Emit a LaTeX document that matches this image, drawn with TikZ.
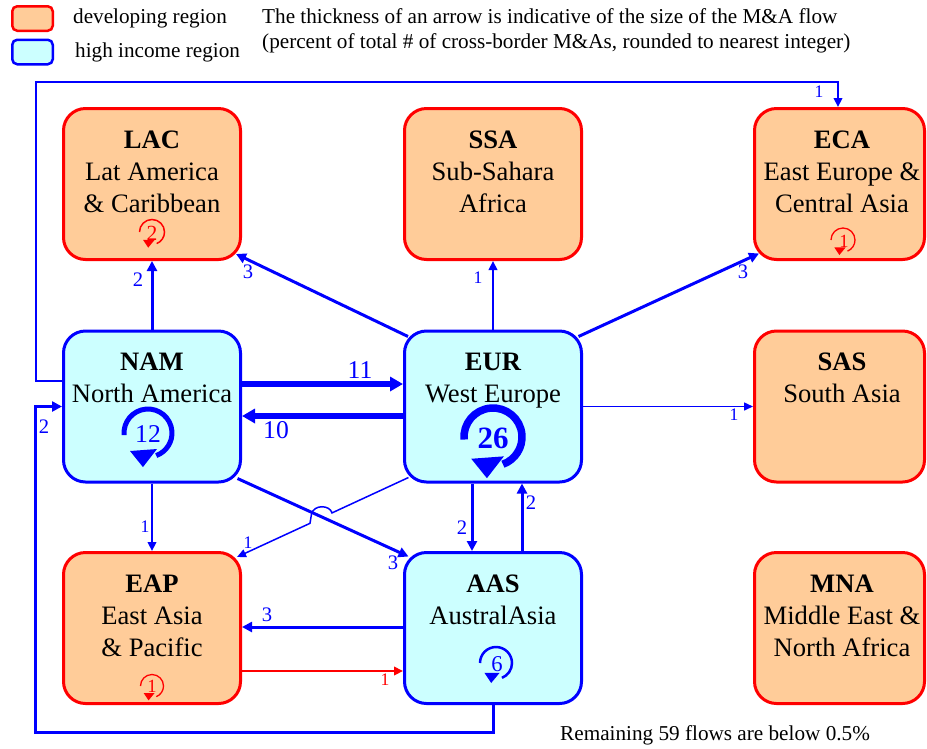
\documentclass[tikz,border=0pt]{standalone}
\usepackage{fontspec}
\setmainfont{Liberation Serif}
\usetikzlibrary{arrows.meta,calc}
\definecolor{peach}{HTML}{FFCC99}
\definecolor{ice}{HTML}{CCFFFF}
\newcommand{\loopbig}[4]{%
  \begin{scope}[shift={#1}]
    \draw[#4, line width=#3] (185:#2pt) arc[start angle=185, end angle=-70, radius=#2pt];
    \fill[#4] (-0.75*#2, -0.75*#2) -- (0.375*#2, -0.667*#2) -- (-0.21*#2, -1.42*#2) -- cycle;
  \end{scope}}
\newcommand{\looplittle}[4]{%
  \begin{scope}[shift={#1}]
    \draw[#4, line width=#3] (180:#2pt) arc[start angle=180, end angle=-68, radius=#2pt];
    \fill[#4] (-0.72*#2, -0.62*#2) -- (0.22*#2, -0.62*#2) -- (-0.3*#2, -1.25*#2) -- cycle;
  \end{scope}}
\begin{document}
\begin{tikzpicture}[x=1pt,y=1pt,
  regbox/.style={rounded corners=22pt, line width=3pt, minimum width=177pt, minimum height=151pt, inner sep=0},
  devbox/.style={regbox, draw=red, fill=peach},
  hibox/.style={regbox, draw=blue, fill=ice},
  legbox/.style={rounded corners=5pt, line width=2.5pt, minimum width=40.5pt, minimum height=24.5pt, inner sep=0},
  bt/.style={inner sep=0, anchor=base, font=\fontsize{26.6}{32}\selectfont},
  bh/.style={inner sep=0, anchor=base, font=\fontsize{26.6}{32}\selectfont\bfseries},
  lg/.style={inner sep=0, anchor=base west, font=\fontsize{21.2}{25}\selectfont},
  fthin/.style={draw=blue, line width=1.5pt, -{Triangle[length=9pt,width=8pt]}},
  fone/.style={draw=blue, line width=2.2pt, -{Triangle[length=9pt,width=8.5pt]}},
  ftwo/.style={draw=blue, line width=3pt, -{Triangle[length=10pt,width=10pt]}},
  ften/.style={draw=blue, line width=6pt, -{Triangle[length=13pt,width=14pt]}},
  lbig/.style={text=blue, inner sep=0, font=\fontsize{20.6}{24}\selectfont},
  lsmall/.style={text=blue, inner sep=0, font=\fontsize{17.6}{20}\selectfont},
  lhuge/.style={text=blue, inner sep=0, font=\fontsize{25.6}{30}\selectfont},
]
\useasboundingbox (0,0) rectangle (927,-748);

% legend and notes
\node[legbox, draw=red, fill=peach] (legdev) at (32.5,-18.5) {};
\node[legbox, draw=blue, fill=ice] (leghi) at (32.5,-52) {};
\node[lg] (legdevt) at (73,-23.5) {developing region};
\node[lg] (leghit) at (75,-57) {high income region};
\node[lg] (note1) at (262,-23) {The thickness of an arrow is indicative of the size of the M\&A flow};
\node[lg] (note2) at (262,-48) {(percent of total \# of cross-border M\&As, rounded to nearest integer)};
\node[lg] (rem) at (560,-740) {Remaining 59 flows are below 0.5\%};

% region boxes
\node[devbox] (lac) at (152,-184) {};
\node[devbox] (ssa) at (493,-184) {};
\node[devbox, minimum width=170pt] (eca) at (839.5,-184) {};
\node[hibox] (nam) at (152,-406.5) {};
\node[hibox] (eur) at (493,-406.5) {};
\node[devbox, minimum width=170pt] (sas) at (839.5,-406.5) {};
\node[devbox] (eap) at (152,-628) {};
\node[hibox] (aas) at (493,-628) {};
\node[devbox, minimum width=170pt] (mna) at (839.5,-628) {};

% region texts
\node[bh] (lac0) at (152,-148) {LAC};
\node[bt] (lac1) at (152,-180) {Lat America};
\node[bt] (lac2) at (152,-212) {\& Caribbean};
\node[bh] (ssa0) at (493,-148) {SSA};
\node[bt] (ssa1) at (493,-180) {Sub-Sahara};
\node[bt] (ssa2) at (493,-212) {Africa};
\node[bh] (eca0) at (842,-148) {ECA};
\node[bt] (eca1) at (842,-180) {East Europe \&};
\node[bt] (eca2) at (842,-212) {Central Asia};
\node[bh] (nam0) at (152,-370) {NAM};
\node[bt] (nam1) at (152,-402) {North America};
\node[bh] (eur0) at (493,-370) {EUR};
\node[bt] (eur1) at (493,-402) {West Europe};
\node[bh] (sas0) at (842,-370) {SAS};
\node[bt] (sas1) at (842,-402) {South Asia};
\node[bh] (eap0) at (152,-592) {EAP};
\node[bt] (eap1) at (152,-624) {East Asia};
\node[bt] (eap2) at (152,-656) {\& Pacific};
\node[bh] (aas0) at (493,-592) {AAS};
\node[bt] (aas1) at (493,-624) {AustralAsia};
\node[bh] (mna0) at (842,-592) {MNA};
\node[bt] (mna1) at (842,-624) {Middle East \&};
\node[bt] (mna2) at (842,-656) {North Africa};

% helper coordinates
\coordinate (topleft) at (36,-82);
\coordinate (botleft) at (35,-732);
\coordinate (hopA) at (332,-512.9);
\coordinate (hopB) at (310,-523.3);

% flows
\draw[ftwo] (nam.north) -- (lac.south);
\draw[ftwo] ($(eur.north west)+(5,-7)$) -- ($(lac.south east)+(-6,7)$);
\draw[fone] (eur.north) -- (ssa.south);
\draw[ftwo] ($(eur.north east)+(-4.5,-7)$) -- ($(eca.south west)+(6,7.5)$);
\draw[fone] ($(nam.west)+(0,25.5)$) -| (topleft) -| ($(eca.north)+(-1.5,0)$);
\draw[ften] ($(nam.east)+(0,22.5)$) -- ($(eur.west)+(0,22.5)$);
\draw[ften] ($(eur.west)+(0,-9.5)$) -- ($(nam.east)+(0,-9.5)$);
\draw[fthin] (eur.east) -- (sas.west);
\draw[fone] (nam.south) -- (eap.north);
\draw[ftwo] ($(nam.south east)+(-4.5,5)$) -- ($(aas.north west)+(5.5,-5.5)$);
\draw[fthin] ($(eur.south west)+(5.5,6)$) -- (hopA) .. controls (330,-505) and (314,-504) .. (311.5,-514) -- (hopB) -- ($(eap.north east)+(-5,-6)$);
\draw[ftwo] ($(eur.south)+(-21,0)$) -- ($(aas.north)+(-21,0)$);
\draw[ftwo] ($(aas.north)+(29,0)$) -- ($(eur.south)+(29,0)$);
\draw[ftwo] ($(aas.west)+(0,1)$) -- ($(eap.east)+(0,1)$);
\draw[fone, draw=red] ($(eap.east)+(0,-43)$) -- ($(aas.west)+(0,-43)$);
\draw[ftwo] (aas.south) |- (botleft) |- (nam.west);

% flow labels
\node[lbig] (v1) at (138,-280) {2};
\node[lbig] (v2) at (248,-272) {3};
\node[lsmall] (v3) at (478,-278) {1};
\node[lbig] (v4) at (743,-272) {3};
\node[lsmall] (v5) at (819,-92) {1};
\node[lhuge] (v6) at (360,-370) {11};
\node[lhuge] (v7) at (276,-430) {10};
\node[lsmall] (v8) at (734,-415) {1};
\node[lsmall] (v9) at (145,-527) {1};
\node[lsmall] (v10) at (248,-543) {1};
\node[lbig] (v11) at (393,-563) {3};
\node[lbig] (v12) at (462,-528) {2};
\node[lbig] (v13) at (531,-503) {2};
\node[lbig] (v14) at (267,-615) {3};
\node[lsmall, text=red] (v15) at (385,-680) {1};
\node[lbig] (v16) at (44,-427) {2};

% self loops
\loopbig{(148,-433)}{24}{5pt}{blue}
\node[lhuge] (selfnam) at (148,-434) {12};
\loopbig{(493,-437)}{29}{7.5pt}{blue}
\node[text=blue, inner sep=0, font=\fontsize{31}{36}\selectfont\bfseries] (selfeur) at (493,-438) {26};
\looplittle{(496,-663)}{16}{2.5pt}{blue}
\node[text=blue, inner sep=0, font=\fontsize{22.6}{26}\selectfont] (selfaas) at (497,-664) {6};
\looplittle{(152,-232)}{12.5}{1.5pt}{red}
\node[text=red, inner sep=0, font=\fontsize{21.6}{25}\selectfont] (selflac) at (152,-233) {2};
\looplittle{(843,-240)}{12}{1.3pt}{red}
\node[text=red, inner sep=0, font=\fontsize{18.6}{22}\selectfont] (selfeca) at (844,-241) {1};
\looplittle{(152,-686)}{11.5}{1.3pt}{red}
\node[text=red, inner sep=0, font=\fontsize{18.6}{22}\selectfont] (selfeap) at (152,-686) {1};
\end{tikzpicture}
\end{document}
